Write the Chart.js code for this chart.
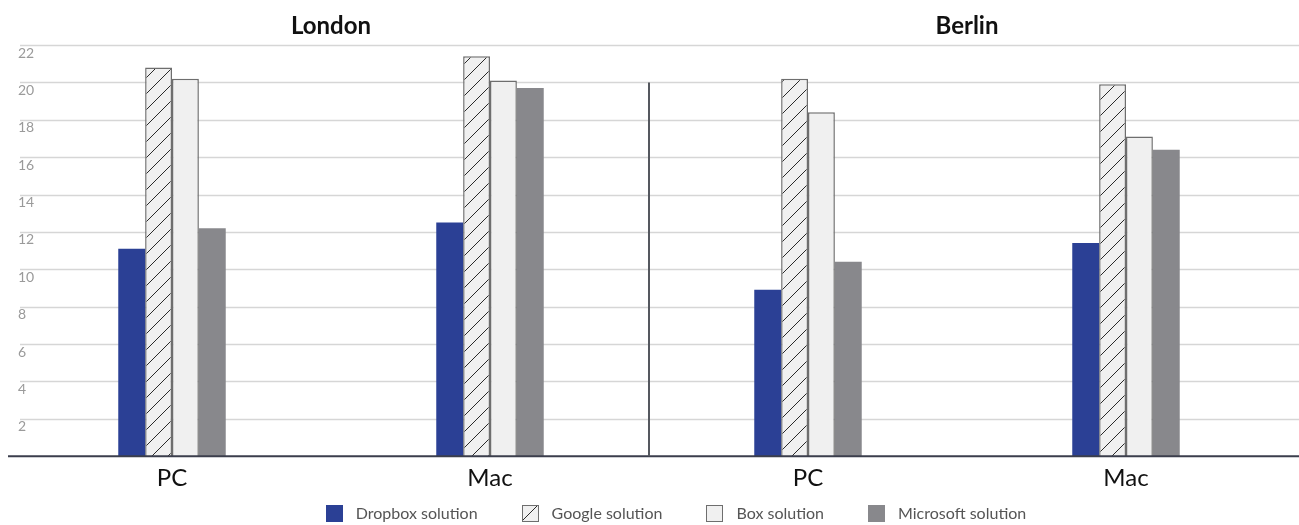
<!DOCTYPE html>
<html>
<head>
<meta charset="utf-8">
<script src="https://cdn.jsdelivr.net/npm/chart.js@4.4.0/dist/chart.umd.min.js"></script>
<style>
    body { margin: 0; background: #fff; }
    #wrap { width: 1299px; height: 525px; position: relative; }
</style>
</head>
<body>
<div id="wrap"><canvas id="chart"></canvas></div>
<script>
    "use strict";

    // Data
    var categories = ["PC", "Mac", "PC", "Mac"];
    var groups = ["London", "Berlin"];
    var seriesNames = ["Dropbox solution", "Google solution", "Box solution", "Microsoft solution"];
    var dropbox = [11.1, 12.5, 8.9, 11.4];
    var google = [20.8, 21.4, 20.2, 19.9];
    var box = [20.2, 20.1, 18.4, 17.1];
    var microsoft = [12.2, 19.7, 10.4, 16.4];
    var yTicksMax = 22;

    // Hatch pattern for the Google bars
    var hatch = function () {
        var c = document.createElement("canvas");
        c.width = 16; c.height = 16;
        var g = c.getContext("2d");
        g.fillStyle = "#f0f0f0";
        g.fillRect(0, 0, 16, 16);
        g.strokeStyle = "#2a2a2a";
        g.lineWidth = 1;
        g.beginPath();
        g.moveTo(0, 16); g.lineTo(16, 0);
        g.moveTo(-4, 4); g.lineTo(4, -4);
        g.moveTo(12, 20); g.lineTo(20, 12);
        g.stroke();
        return g.createPattern(c, "repeat");
    };

    // Gridlines, axis line, divider, group titles and legend
    var decorations = {
        id: "decorations",
        beforeDatasetsDraw: function (chart) {
            var ctx = chart.ctx, y = chart.scales.y;
            ctx.save();
            ctx.strokeStyle = "#d6d6d6";
            ctx.lineWidth = 1.5;
            y.ticks.forEach(function (t) {
                if (t.value === 0) return;
                var py = Math.round(y.getPixelForValue(t.value)) + 0.5;
                ctx.beginPath();
                ctx.moveTo(20, py);
                ctx.lineTo(chart.width, py);
                ctx.stroke();
            });
            ctx.restore();
        },
        afterDatasetsDraw: function (chart) {
            var ctx = chart.ctx, x = chart.scales.x, y = chart.scales.y;
            ctx.save();
            // base line
            var y0 = y.getPixelForValue(0);
            ctx.strokeStyle = "#3b3e4c";
            ctx.lineWidth = 2;
            ctx.beginPath();
            ctx.moveTo(8, y0);
            ctx.lineTo(chart.width, y0);
            ctx.stroke();
            // divider between cities
            var xd = (x.getPixelForValue(1) + x.getPixelForValue(2)) / 2;
            ctx.strokeStyle = "#55585f";
            ctx.lineWidth = 2;
            ctx.beginPath();
            ctx.moveTo(xd, y.getPixelForValue(20));
            ctx.lineTo(xd, y0);
            ctx.stroke();
            // city titles
            ctx.fillStyle = "#111";
            ctx.font = "bold 24px Lato";
            ctx.textAlign = "center";
            ctx.textBaseline = "middle";
            groups.forEach(function (name, i) {
                var cx = (x.getPixelForValue(i * 2) + x.getPixelForValue(i * 2 + 1)) / 2;
                ctx.fillText(name, cx, chart.chartArea.top - 19);
            });

            // legend
            var boxSize = 17, textGap = 13, itemGap = 44;
            ctx.font = "16px Lato";
            ctx.textAlign = "left";
            var sets = chart.data.datasets;
            var total = 0;
            sets.forEach(function (ds, i) {
                total += boxSize + textGap + ctx.measureText(ds.label).width;
                if (i < sets.length - 1) total += itemGap;
            });
            var lx = (chart.chartArea.left + chart.chartArea.right) / 2 + 27 - total / 2;
            var ly = chart.height - 12;
            sets.forEach(function (ds) {
                var bx = Math.round(lx), by = Math.round(ly - boxSize / 2);
                ctx.save();
                ctx.translate(bx, by);
                ctx.fillStyle = ds.backgroundColor;
                ctx.fillRect(0, 0, boxSize, boxSize);
                if (ds.borderWidth) {
                    ctx.strokeStyle = ds.borderColor;
                    ctx.lineWidth = 1;
                    ctx.strokeRect(0.5, 0.5, boxSize - 1, boxSize - 1);
                }
                ctx.restore();
                ctx.fillStyle = "#555";
                ctx.fillText(ds.label, lx + boxSize + textGap, ly + 1);
                lx += boxSize + textGap + ctx.measureText(ds.label).width + itemGap;
            });
            ctx.restore();
        }
    };

    var ctx1 = document.getElementById("chart").getContext("2d");
    var myChart1 = new Chart(ctx1, {
        type: "bar",
        data: {
            labels: categories,
            datasets: [{
                    label: seriesNames[0],
                    data: dropbox,
                    backgroundColor: "#2b4095",
                    borderWidth: 0
                },
                {
                    label: seriesNames[1],
                    data: google,
                    backgroundColor: hatch(),
                    borderColor: "#6e6e6e",
                    borderWidth: 1.5
                },
                {
                    label: seriesNames[2],
                    data: box,
                    backgroundColor: "#f0f0f0",
                    borderColor: "#6e6e6e",
                    borderWidth: 1.5
                },
                {
                    label: seriesNames[3],
                    data: microsoft,
                    backgroundColor: "#88888c",
                    borderWidth: 0
                }
            ]
        },
        options: {
            responsive: true,
            maintainAspectRatio: false,
            animation: false,
            layout: { padding: { top: 45, left: 3, right: 14, bottom: 32 } },
            datasets: { bar: { barPercentage: 1, categoryPercentage: 0.338 } },
            plugins: {
                tooltip: { enabled: false },
                legend: { display: false }
            },
            scales: {
                x: {
                    grid: { display: false },
                    border: { display: false },
                    ticks: { color: "#111", padding: 0, font: { family: "Lato", size: 24 } }
                },
                y: {
                    min: 0,
                    max: yTicksMax,
                    grid: { display: false, drawTicks: false },
                    border: { display: false },
                    ticks: {
                        stepSize: 2,
                        mirror: true,
                        padding: 5,
                        labelOffset: 8,
                        color: "#9a9a9a",
                        font: { family: "Lato", size: 14 },
                        callback: function (v) { return v === 0 ? "" : v; }
                    }
                }
            }
        },
        plugins: [decorations]
    });
</script>
</body>
</html>
